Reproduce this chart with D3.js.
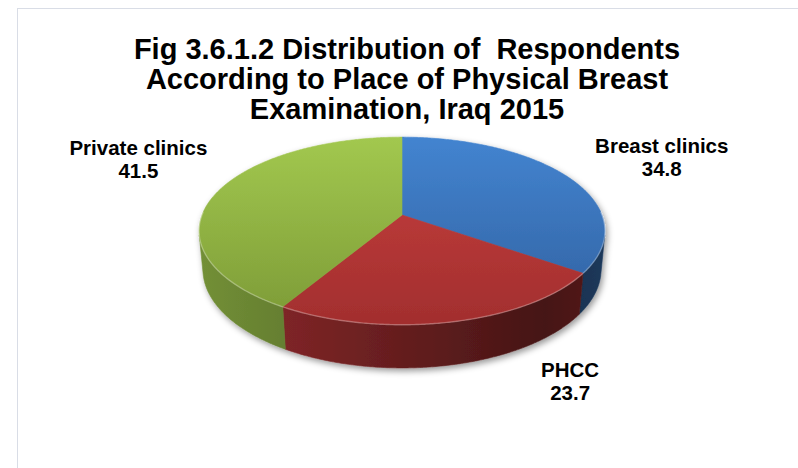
<!DOCTYPE html>
<html>
<head>
<meta charset="utf-8">
<script src="https://cdn.jsdelivr.net/npm/d3@7"></script>
<style>
  html, body { margin: 0; padding: 0; background: #fff; }
  svg { display: block; }
  text { font-family: "Liberation Sans", Arial, sans-serif; font-weight: bold; fill: #000; white-space: pre; }
</style>
</head>
<body>
<svg id="chart" width="798" height="468"></svg>
<script>
// Chart data
const titleLines = [
  "Fig 3.6.1.2 Distribution of  Respondents",
  "According to Place of Physical Breast",
  "Examination, Iraq 2015"
];
const categories = ["Breast clinics", "PHCC", "Private clinics"];
const values = [34.8, 23.7, 41.5];

// Slice palette: top face (upper, lower) and base colour for the walls
const topColors = [["#4384d0", "#30609f"], ["#c8413f", "#a22e2e"], ["#a2c84f", "#7c9a36"]];
const baseColors = ["#3d7cc9", "#c0393a", "#9bc24a"];

// Label placement relative to the rim point at each slice's mid angle
const labelOffsets = [[95, -23], [118, 55], [-79, -37]];

const W = 798, H = 468;
const svg = d3.select("#chart");

// Chart frame
svg.append("rect")
  .attr("x", 17.5).attr("y", 8.5)
  .attr("width", 900).attr("height", 900)
  .attr("fill", "none").attr("stroke", "#d9dde6").attr("stroke-width", 1);

// Title
svg.append("g").selectAll("text").data(titleLines).join("text")
  .attr("x", 407)
  .attr("y", (d, i) => 59 + i * 30)
  .attr("text-anchor", "middle")
  .attr("font-size", 29)
  .attr("xml:space", "preserve")
  .text(d => d);

// ---- perspective 3D pie ----
const cx = 402, cy = 215;          // screen position of the disc centre
const alpha = 27.1 * Math.PI / 180; // camera elevation
const sA = Math.sin(alpha), cA = Math.cos(alpha);
const Dist = 5.24;                 // camera distance, in disc radii
const focal = 200 * Dist;          // focal length in pixels
const thick = 0.2175;              // disc thickness, in disc radii

function project(X, Y, Z) {
  const depth = Dist - Y * sA - Z * cA;
  return [cx + focal * X / depth, cy - focal * (Y * cA - Z * sA) / depth];
}
// angle measured clockwise from the far side of the disc, as d3.pie does
function rim(theta, Y) {
  return project(Math.sin(theta), Y, -Math.cos(theta));
}
function sampleArc(a0, a1, Y) {
  const n = Math.max(2, Math.ceil(Math.abs(a1 - a0) / (Math.PI / 360)));
  return d3.range(n + 1).map(i => rim(a0 + (a1 - a0) * i / n, Y));
}
const line = d3.line();

const pie = d3.pie().sort(null).value(d => d);
const arcs = pie(values);

// Outer wall faces the camera where cos(theta) < -1/(Dist*cos(alpha))
const visLimit = Math.acos(-1 / (Dist * cA));
const wallMin = visLimit, wallMax = 2 * Math.PI - visLimit;

// colour helpers
function shade(hex, k) {
  const c = d3.rgb(hex);
  return d3.rgb(c.r * k, c.g * k, c.b * k).formatHex();
}

const defs = svg.append("defs");

// soft shadow under the disc
const filt = defs.append("filter").attr("id", "shadow")
  .attr("x", "-10%").attr("y", "-10%").attr("width", "120%").attr("height", "130%");
filt.append("feDropShadow")
  .attr("dx", 2).attr("dy", 3).attr("stdDeviation", 3)
  .attr("flood-color", "#000").attr("flood-opacity", 0.4);

// top extents for the gradients
const topY = rim(0, 0)[1], botY = rim(Math.PI, 0)[1];
const leftX = cx - 205, rightX = cx + 205;

arcs.forEach((a, i) => {
  const gt = defs.append("linearGradient").attr("id", "top" + i)
    .attr("gradientUnits", "userSpaceOnUse")
    .attr("x1", 0).attr("x2", 0).attr("y1", topY).attr("y2", botY);
  gt.append("stop").attr("offset", 0).attr("stop-color", topColors[i][0]);
  gt.append("stop").attr("offset", 1).attr("stop-color", topColors[i][1]);

  const gw = defs.append("linearGradient").attr("id", "wall" + i)
    .attr("gradientUnits", "userSpaceOnUse")
    .attr("x1", leftX).attr("x2", rightX).attr("y1", 0).attr("y2", 0);
  [[0, 0.74], [0.25, 0.64], [0.85, 0.36], [1, 0.46]].forEach(([o, k]) =>
    gw.append("stop").attr("offset", o).attr("stop-color", shade(baseColors[i], k)));
});

const pieG = svg.append("g").attr("filter", "url(#shadow)");

// walls
arcs.forEach((a, i) => {
  const a0 = Math.max(a.startAngle, wallMin), a1 = Math.min(a.endAngle, wallMax);
  if (a1 <= a0) return;
  const pts = sampleArc(a0, a1, 0).concat(sampleArc(a1, a0, -thick));
  pieG.append("path")
    .attr("d", line(pts) + "Z")
    .attr("fill", `url(#wall${i})`)
    .attr("stroke", `url(#wall${i})`).attr("stroke-width", 0.6);
});

// top faces
arcs.forEach((a, i) => {
  const pts = [project(0, 0, 0)].concat(sampleArc(a.startAngle, a.endAngle, 0));
  pieG.append("path")
    .attr("d", line(pts) + "Z")
    .attr("fill", `url(#top${i})`)
    .attr("stroke", `url(#top${i})`).attr("stroke-width", 0.6)
    .attr("stroke-linejoin", "round");
});

// bevel highlight along the near rim
arcs.forEach((a, i) => {
  const a0 = Math.max(a.startAngle, wallMin - 0.25), a1 = Math.min(a.endAngle, wallMax + 0.25);
  if (a1 <= a0) return;
  pieG.append("path")
    .attr("d", line(sampleArc(a0, a1, 0)))
    .attr("fill", "none")
    .attr("stroke", "#ffffff").attr("stroke-opacity", 0.28).attr("stroke-width", 1.4);
});

// data labels
const labelG = svg.append("g");
arcs.forEach((a, i) => {
  const mid = (a.startAngle + a.endAngle) / 2;
  const p = rim(mid, 0);
  const x = p[0] + labelOffsets[i][0], y = p[1] + labelOffsets[i][1];
  const t = labelG.append("text")
    .attr("x", x).attr("y", y)
    .attr("text-anchor", "middle")
    .attr("font-size", 20.5);
  t.append("tspan").attr("x", x).attr("dy", 0).text(categories[i]);
  t.append("tspan").attr("x", x).attr("dy", 23).text(values[i].toFixed(1));
});
</script>
</body>
</html>
